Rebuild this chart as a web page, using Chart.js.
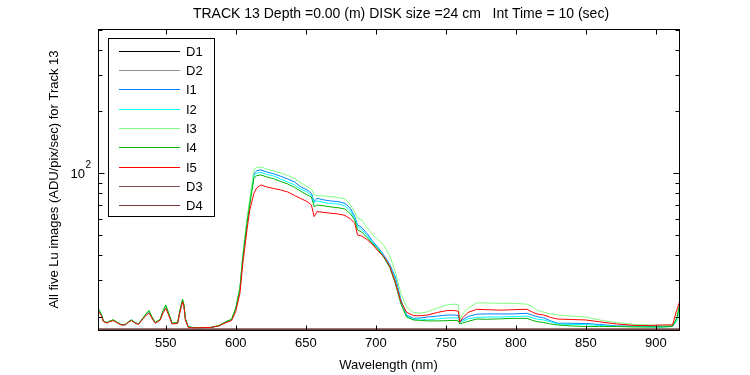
<!DOCTYPE html>
<html>
<head>
<meta charset="utf-8">
<script src="https://cdn.jsdelivr.net/npm/chart.js@4/dist/chart.umd.min.js"></script>
<style>
  html, body { margin: 0; padding: 0; background: #fff; }
  #wrap { width: 750px; height: 375px; }
</style>
</head>
<body>
<div id="wrap"><canvas id="spec" width="750" height="375"></canvas></div>
<script>
// Wavelengths (nm) shared by the five Lu image series
const wl = [
  502, 504, 505.5, 508, 510, 512.5, 515, 518, 521, 523.5, 525.5, 528, 530.5, 534, 536, 538, 540, 542.5,
  546, 548, 550, 552, 554.5, 558.5, 560, 562, 563, 564, 566, 569, 575, 582, 588, 593, 597,
  600, 603, 605, 608, 610,
  613, 615, 618, 622, 627, 632, 637, 642, 646, 651, 654, 656, 658, 663, 668, 673, 678, 682,
  685, 687, 690, 694, 698, 702, 706, 710, 714, 718, 722, 727, 732, 737,
  744, 751, 756, 759, 760, 762, 766, 772, 780, 789, 798, 808, 812, 815, 820, 825, 830, 840, 850, 860, 872, 885, 896, 905, 912, 915, 917
];

const i1 = [
  21.6, 20.4, 19.0, 18.7, 19.0, 19.2, 18.8, 18.3, 18.2, 18.9, 19.2, 18.7, 18.4, 19.7, 20.5, 21.2, 19.9, 18.65,
  19.3, 21.1, 22.4, 20.7, 18.5, 18.6, 21.1, 24.0, 22.6, 19.5, 17.8, 17.7, 17.65, 17.7, 18.0, 18.8, 19.3,
  21.8, 27.5, 39, 58, 72,
  99, 103, 103.8, 101.5, 99.4, 96.7, 93.8, 90.7, 86.0, 82.9, 79.9, 72.7, 75.5, 74.1, 73.2, 72.7, 71.2, 67.3,
  61.4, 56.0, 54.4, 50.6, 46.4, 43.2, 39.7, 35.9, 31.2, 24.1, 20.35, 19.6, 19.7, 19.9,
  20.1, 20.35, 20.35, 20.25, 18.85, 19.25, 20.0, 20.55, 20.6, 20.6, 20.6, 20.75, 20.3, 20.0, 19.7, 19.05, 18.55, 18.55, 18.5, 18.3, 18.0, 17.95, 17.9, 17.9, 18.0, 19.2, 22.0
];
const i2 = [
  21.6, 20.4, 19.0, 18.7, 19.0, 19.2, 18.8, 18.3, 18.2, 18.9, 19.2, 18.7, 18.4, 19.7, 20.5, 21.2, 19.9, 18.65,
  19.3, 21.1, 22.4, 20.7, 18.5, 18.6, 21.1, 24.0, 22.6, 19.5, 17.8, 17.7, 17.65, 17.7, 18.0, 18.8, 19.3,
  21.8, 27.5, 39, 58, 72,
  97, 100, 101.1, 98.7, 97, 93.8, 90.7, 87.7, 83.8, 81.0, 78.0, 71.6, 73.3, 72.0, 71.2, 70.8, 69.3, 65.5,
  60.0, 54.8, 53.2, 49.5, 45.8, 42.7, 39.2, 35.5, 30.4, 23.6, 20.1, 19.4, 19.45, 19.25,
  19.5, 19.7, 19.7, 19.7, 18.7, 18.95, 19.5, 19.8, 19.9, 19.9, 20.0, 20.1, 19.7, 19.45, 19.25, 18.85, 18.4, 18.3, 18.3, 18.1, 17.9, 17.9, 17.8, 17.8, 17.9, 19.0, 21.8
];
const i3 = [
  21.7, 20.5, 19.0, 18.7, 19.0, 19.3, 18.8, 18.3, 18.3, 18.9, 19.2, 18.7, 18.4, 19.8, 20.6, 21.4, 20.0, 18.7,
  19.3, 21.2, 22.6, 20.8, 18.6, 18.6, 21.2, 24.2, 22.8, 19.5, 17.8, 17.7, 17.65, 17.7, 18.1, 18.9, 19.4,
  22.0, 28, 40, 60, 75,
  104, 106.5, 107.3, 105, 102.6, 100.3, 97.6, 94.3, 90.4, 86.0, 83.8, 78.4, 77.7, 77.5, 76.9, 76.2, 74.9, 70.0,
  64.8, 60.5, 59.2, 54.1, 50.0, 47.3, 44.2, 39.5, 33.0, 25.8, 22.3, 20.9, 20.8, 21.1,
  22.0, 22.8, 23.0, 22.8, 19.25, 20.6, 22.0, 23.3, 23.3, 23.2, 23.2, 23.0, 22.3, 21.5, 21.0, 20.6, 20.35, 20.1, 19.9, 19.25, 18.7, 18.3, 18.2, 18.1, 18.2, 19.25, 22.0
];
const i4 = [
  21.8, 20.5, 19.0, 18.7, 19.0, 19.3, 18.8, 18.3, 18.3, 18.9, 19.3, 18.7, 18.4, 19.8, 20.7, 21.4, 20.0, 18.7,
  19.4, 21.3, 22.8, 20.9, 18.6, 18.7, 21.3, 24.3, 22.9, 19.6, 17.8, 17.7, 17.65, 17.7, 18.1, 18.9, 19.4,
  22.0, 27.5, 38.5, 57, 70,
  95, 97.3, 98.1, 96, 94, 91.2, 88.7, 85.3, 82.0, 78.4, 76.6, 68.7, 70.0, 69.3, 68.5, 67.9, 66.9, 63.3,
  59.2, 52.9, 51.7, 48.4, 45.2, 42.2, 38.6, 34.7, 28.9, 23.0, 19.9, 19.25, 19.15, 19.05,
  19.05, 19.1, 19.15, 19.05, 18.4, 18.6, 18.95, 19.45, 19.4, 19.5, 19.6, 19.6, 19.15, 18.9, 18.7, 18.4, 18.2, 18.0, 17.9, 17.9, 17.9, 17.8, 17.8, 17.8, 17.9, 19.7, 22.8
];
const i5 = [
  21.2, 20.2, 18.9, 18.6, 18.9, 19.1, 18.7, 18.2, 18.2, 18.8, 19.1, 18.6, 18.3, 19.6, 20.3, 20.8, 19.7, 18.55,
  19.2, 20.8, 21.9, 20.4, 18.4, 18.55, 20.8, 23.6, 22.3, 19.3, 17.75, 17.6, 17.65, 17.7, 18.0, 18.7, 19.1,
  21.2, 26.0, 36, 53, 66,
  80, 84.8, 87.7, 85.8, 84.3, 82.9, 81.1, 77.9, 75.5, 72.7, 70.0, 61.4, 65.0, 64.4, 63.8, 63.3, 62.3, 59.8,
  57.1, 50.0, 49.4, 47.3, 44.7, 41.5, 39.1, 35.2, 29.5, 23.6, 21.0, 20.2, 20.2, 20.35,
  20.95, 21.4, 21.4, 21.25, 18.75, 19.7, 20.95, 21.7, 21.6, 21.5, 21.6, 21.7, 21.0, 20.6, 20.35, 19.8, 19.45, 19.35, 19.25, 18.85, 18.4, 18.1, 18.1, 18.2, 18.2, 21.5, 23.6
];

// Dark readings sit on the floor of the axis
const darkWl = [502, 600, 700, 800, 917];
const d1 = [17.35, 17.35, 17.35, 17.35, 17.35];
const d2 = [17.35, 17.35, 17.35, 17.35, 17.35];
const d3 = [17.35, 17.35, 17.35, 17.35, 17.35];
const d4 = [17.35, 17.35, 17.35, 17.35, 17.35];

const seriesNames = ['D1', 'D2', 'I1', 'I2', 'I3', 'I4', 'I5', 'D3', 'D4'];
const seriesColors = ['#000000', '#909090', '#0080ff', '#00ffff', '#80ff80', '#00b400', '#ff0000', '#855050', '#7a3a3a'];

const xTicks = [550, 600, 650, 700, 750, 800, 850, 900];
const yTicks = [20, 30, 40, 50, 60, 70, 80, 90, 100, 200, 300, 400, 500];

const FONT = '"Liberation Sans", Arial, sans-serif';

function pts(xs, ys) {
    return xs.map((v, i) => ({ x: v, y: ys[i] }));
}

const allSeries = [
    pts(darkWl, d1), pts(darkWl, d2),
    pts(wl, i1), pts(wl, i2), pts(wl, i3), pts(wl, i4), pts(wl, i5),
    pts(darkWl, d3), pts(darkWl, d4)
];

const datasets = allSeries.map((data, k) => ({
    label: seriesNames[k],
    data: data,
    borderColor: seriesColors[k],
    backgroundColor: seriesColors[k],
    borderWidth: 1,
    pointRadius: 0,
    tension: 0,
    order: -k   // later series drawn on top, like the original plot
}));

// Frame, inward tick marks on all four sides, and the 10^2 label
const framePlugin = {
    id: 'frame',
    afterDatasetsDraw(chart) {
        const { ctx, chartArea: a, scales: { x, y } } = chart;
        const L = Math.round(a.left) + 0.5, R = Math.round(a.right) + 0.5;
        const T = Math.round(a.top) + 0.5, B = Math.round(a.bottom) + 0.5;
        ctx.save();
        ctx.strokeStyle = '#000';
        ctx.lineWidth = 1;
        ctx.strokeRect(L, T, R - L, B - T);
        ctx.beginPath();
        x.ticks.forEach(t => {
            const px = Math.round(x.getPixelForValue(t.value)) + 0.5;
            ctx.moveTo(px, B); ctx.lineTo(px, B - 5);
            ctx.moveTo(px, T); ctx.lineTo(px, T + 5);
        });
        y.ticks.forEach(t => {
            const py = Math.round(y.getPixelForValue(t.value)) + 0.5;
            const len = t.value === 100 ? 6 : 4;
            ctx.moveTo(L, py); ctx.lineTo(L + len, py);
            ctx.moveTo(R, py); ctx.lineTo(R - len, py);
        });
        ctx.stroke();

        // decade label drawn as base plus raised exponent
        const py = y.getPixelForValue(100);
        ctx.fillStyle = '#000';
        ctx.textBaseline = 'middle';
        ctx.textAlign = 'right';
        ctx.font = '13px ' + FONT;
        ctx.fillText('10', 85, py + 1);
        ctx.textAlign = 'left';
        ctx.font = '10px ' + FONT;
        ctx.fillText('2', 85.5, py - 8);
        ctx.restore();
    }
};

// Legend box inside the plot, top left
const legendPlugin = {
    id: 'boxLegend',
    afterDraw(chart) {
        const ctx = chart.ctx;
        const bx = 108.5, by = 38.5, bw = 106, bh = 178;
        ctx.save();
        ctx.fillStyle = '#fff';
        ctx.fillRect(bx, by, bw, bh);
        ctx.strokeStyle = '#000';
        ctx.lineWidth = 1;
        ctx.strokeRect(bx, by, bw, bh);
        ctx.font = '13px ' + FONT;
        ctx.textBaseline = 'middle';
        ctx.textAlign = 'left';
        chart.data.datasets.forEach((ds, k) => {
            const ly = Math.round(50.7 + k * 19.3) + 0.5;
            ctx.strokeStyle = ds.borderColor;
            ctx.beginPath();
            ctx.moveTo(119, ly);
            ctx.lineTo(180, ly);
            ctx.stroke();
            ctx.fillStyle = '#000';
            ctx.fillText(ds.label, 186, ly + 1);
        });
        ctx.restore();
    }
};

// Heading above the plot
const headPlugin = {
    id: 'head',
    afterDraw(chart) {
        const ctx = chart.ctx;
        ctx.save();
        ctx.font = '14px ' + FONT;
        ctx.fillStyle = '#000';
        ctx.textAlign = 'center';
        ctx.textBaseline = 'middle';
        ctx.fillText('TRACK 13 Depth =0.00 (m) DISK size =24 cm   Int Time = 10 (sec)', 401, 14);
        ctx.restore();
    }
};

new Chart(document.getElementById('spec'), {
    type: 'line',
    data: { datasets: datasets },
    options: {
        responsive: false,
        animation: false,
        devicePixelRatio: 1,
        layout: { padding: { top: 29, right: 71, left: 0, bottom: 0 } },
        plugins: {
            legend: { display: false },
            title: { display: false },
            tooltip: { enabled: false }
        },
        scales: {
            x: {
                type: 'linear',
                min: 501.6,
                max: 916.6,
                afterBuildTicks: s => { s.ticks = xTicks.map(v => ({ value: v })); },
                afterFit: s => { s.height = 45; },
                grid: { display: false, drawTicks: false, tickLength: 0 },
                border: { display: false },
                ticks: {
                    color: '#000',
                    font: { family: FONT, size: 13 },
                    padding: 6,
                    maxRotation: 0,
                    autoSkip: false
                },
                title: {
                    display: true,
                    text: 'Wavelength (nm)',
                    color: '#000',
                    font: { family: FONT, size: 13 },
                    padding: { top: 0, bottom: 2 }
                }
            },
            y: {
                type: 'logarithmic',
                min: 17.2,
                max: 505,
                afterBuildTicks: s => { s.ticks = yTicks.map(v => ({ value: v })); },
                afterFit: s => { s.width = 98; },
                grid: { display: false, drawTicks: false, tickLength: 0 },
                border: { display: false },
                ticks: {
                    display: false,
                    autoSkip: false
                },
                title: {
                    display: true,
                    text: 'All five Lu images (ADU/pix/sec) for Track 13',
                    color: '#000',
                    font: { family: FONT, size: 13 },
                    padding: { top: 47, bottom: 0 }
                }
            }
        }
    },
    plugins: [framePlugin, legendPlugin, headPlugin]
});
</script>
</body>
</html>
